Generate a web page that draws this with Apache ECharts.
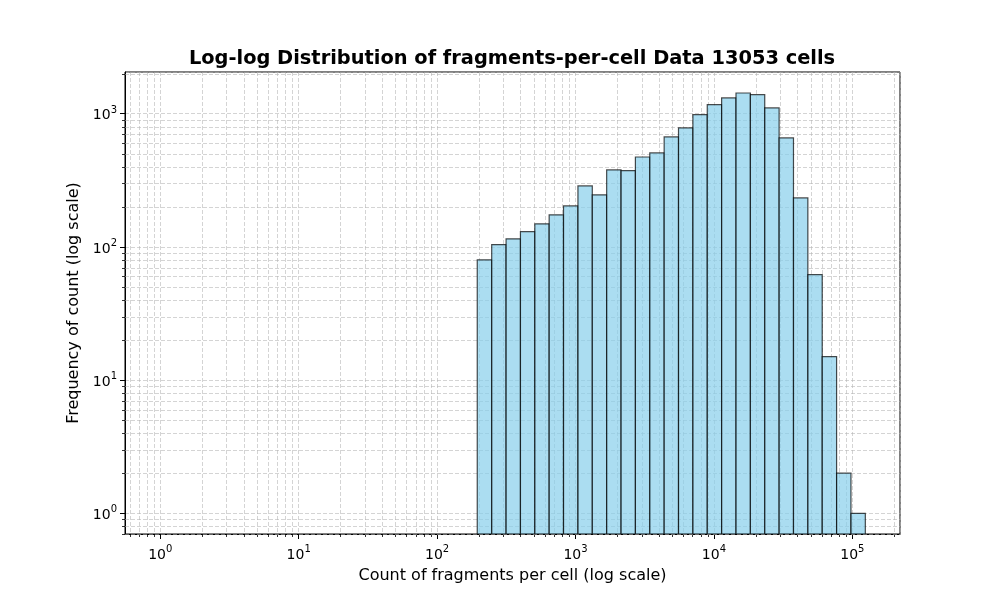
<!DOCTYPE html>
<html>
<head>
<meta charset="utf-8">
<script src="https://cdn.jsdelivr.net/npm/echarts@6/dist/echarts.min.js"></script>
<style>
  html, body { margin: 0; padding: 0; background: #fff; }
  #chart { width: 1000px; height: 600px; }
</style>
</head>
<body>
<div id="chart"></div>
<script>
// bin edges (fragments per cell)
const binEdges = [195, 248, 315, 400, 508, 645, 819, 1041, 1322, 1679, 2133, 2708,
  3440, 4369, 5548, 7047, 8950, 11367, 14437, 18337, 23288, 29578, 37566, 47713,
  60596, 76966, 97746, 124150];
// cells per bin
const counts = [80, 104, 115, 130, 149, 174, 203, 287, 246, 378, 374, 473, 507,
  669, 781, 983, 1168, 1312, 1430, 1388, 1104, 657, 233, 62, 15, 2, 1];

const xMin = 0.556, xMax = 221000;
const yMin = 0.699, yMax = 2055;

const FONT = "DejaVu Sans";
const gridColor = "rgba(176,176,176,0.55)";

// minor gridline positions 2..9 x 10^k
const minorX = [];
for (let k = -1; k <= 5; k++) for (let m = 2; m <= 9; m++) {
  const v = m * Math.pow(10, k);
  if (v > xMin && v < xMax) minorX.push([v, 1]);
}
const minorY = [];
for (let k = -1; k <= 3; k++) for (let m = 2; m <= 9; m++) {
  const v = m * Math.pow(10, k);
  if (v > yMin && v < yMax) minorY.push([1, v]);
}

const bars = counts.map((c, i) => [binEdges[i], binEdges[i + 1], c]);

const chart = echarts.init(document.getElementById("chart"));

function supLabel(v) {
  const e = Math.log10(v);
  if (Math.abs(e - Math.round(e)) > 1e-6) return "";
  return "{b|10}{sup|" + Math.round(e) + "}";
}

const labelRich = {
  b: { fontSize: 14, fontFamily: FONT, color: "#000", padding: [4, 0, 0, 0] },
  sup: { fontSize: 10, fontFamily: FONT, color: "#000", padding: [0, 0, 7, 0] }
};

const options = {
  animation: false,
  backgroundColor: "#fff",
  title: {
    text: "Log-log Distribution of fragments-per-cell Data 13053 cells",
    left: 507,
    top: 44,
    textAlign: "center",
    textStyle: { fontFamily: FONT, fontSize: 19.4, fontWeight: "bold", color: "#000" }
  },
  grid: {
    left: 125, right: 100, top: 72, bottom: 66,
    show: true, borderColor: "#000", borderWidth: 1, backgroundColor: "transparent"
  },
  xAxis: {
    type: "log",
    logBase: 10,
    min: xMin,
    max: xMax,
    name: "Count of fragments per cell (log scale)",
    nameLocation: "middle",
    nameGap: 34,
    nameTextStyle: { fontFamily: FONT, fontSize: 16, color: "#000" },
    axisLine: { lineStyle: { color: "#000", width: 1 } },
    axisTick: { length: 5, lineStyle: { color: "#000" } },
    axisLabel: {
      fontFamily: FONT, fontSize: 14, color: "#000", margin: 10,
      showMinLabel: false, showMaxLabel: false,
      formatter: supLabel, rich: labelRich
    },
    splitLine: { show: true, lineStyle: { color: gridColor, type: [4, 2], width: 1 } }
  },
  yAxis: {
    type: "log",
    logBase: 10,
    min: yMin,
    max: yMax,
    name: "Frequency of count (log scale)",
    nameLocation: "middle",
    nameGap: 41,
    nameTextStyle: { fontFamily: FONT, fontSize: 16, color: "#000" },
    axisLine: { show: true, lineStyle: { color: "#000", width: 1 } },
    axisTick: { show: true, length: 5, lineStyle: { color: "#000" } },
    axisLabel: {
      fontFamily: FONT, fontSize: 14, color: "#000", margin: 8,
      showMinLabel: false, showMaxLabel: false,
      formatter: supLabel, rich: labelRich
    },
    splitLine: { show: true, lineStyle: { color: gridColor, type: [4, 2], width: 1 } }
  },
  series: [
    {
      name: "minorX",
      type: "custom",
      silent: true,
      z: 1,
      data: minorX,
      renderItem: function (params, api) {
        const cs = params.coordSys;
        const p = api.coord([api.value(0), api.value(1)]);
        const x = Math.round(p[0]) + 0.5;
        return {
          type: "group",
          children: [
            { type: "line", shape: { x1: x, y1: cs.y, x2: x, y2: cs.y + cs.height },
              style: { stroke: gridColor, lineWidth: 1, lineDash: [4, 2] } },
            { type: "line", shape: { x1: x, y1: cs.y + cs.height, x2: x, y2: cs.y + cs.height + 3 },
              style: { stroke: "#000", lineWidth: 0.8 } }
          ]
        };
      }
    },
    {
      name: "minorY",
      type: "custom",
      silent: true,
      z: 1,
      data: minorY,
      renderItem: function (params, api) {
        const cs = params.coordSys;
        const p = api.coord([api.value(0), api.value(1)]);
        const y = Math.round(p[1]) + 0.5;
        return {
          type: "group",
          children: [
            { type: "line", shape: { x1: cs.x, y1: y, x2: cs.x + cs.width, y2: y },
              style: { stroke: gridColor, lineWidth: 1, lineDash: [4, 2] } },
            { type: "line", shape: { x1: cs.x - 3, y1: y, x2: cs.x, y2: y },
              style: { stroke: "#000", lineWidth: 0.8 } }
          ]
        };
      }
    },
    {
      name: "cells",
      type: "custom",
      z: 5,
      clip: true,
      data: bars,
      renderItem: function (params, api) {
        const a = api.coord([api.value(0), api.value(2)]);
        const b = api.coord([api.value(1), yMin]);
        return {
          type: "rect",
          shape: { x: a[0], y: a[1], width: b[0] - a[0], height: b[1] - a[1] },
          style: { fill: "rgba(135,206,235,0.7)", stroke: "rgba(0,0,0,0.7)", lineWidth: 1.2 }
        };
      }
    }
  ]
};

chart.setOption(options);
</script>
</body>
</html>
